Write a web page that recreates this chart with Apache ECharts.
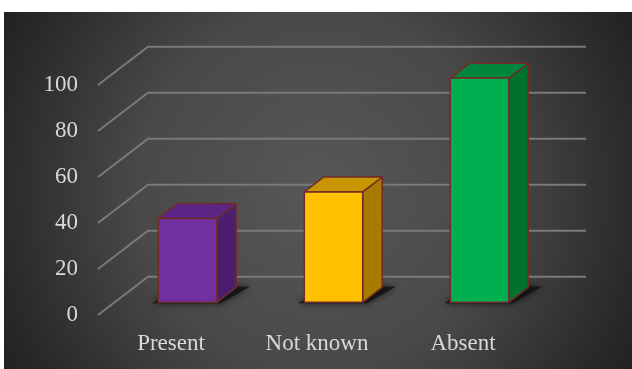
<!DOCTYPE html>
<html>
<head>
<meta charset="utf-8">
<script src="https://cdn.jsdelivr.net/npm/echarts@6/dist/echarts.min.js"></script>
<style>
  html, body { margin: 0; padding: 0; background: #ffffff; }
  #chart { width: 632px; height: 369px; }
</style>
</head>
<body>
<div id="chart"></div>
<script>
// Chart data
var categories = ['Present', 'Not known', 'Absent'];
var values = [36.5, 48, 97.5];
var yTicks = [0, 20, 40, 60, 80, 100];

// Face colours per bar: front, top, side
var frontColors = ['#7030a0', '#ffc000', '#00b050'];
var topColors = ['#5b2585', '#c89600', '#00873d'];
var sideColors = ['#4b1f6d', '#a67c00', '#00712f'];
var edgeColor = '#722a2a';

// Depth of the floor (pixels) and where the bars sit in it
var DEPTH = [50, -38.3];
var BAR_FRONT = 0.33;   // fraction of depth to the bar front face
var BAR_DEPTH = 0.39;   // fraction of depth occupied by a bar

var fontFamily = "'Liberation Serif', 'Times New Roman', serif";
var textColor = '#d9d9d9';

var chart = echarts.init(document.getElementById('chart'), null, { renderer: 'canvas' });

function renderGridLine(params, api) {
  var cs = params.coordSys;
  var y = api.coord([0, api.value(1)])[1];
  var x0 = cs.x, x1 = cs.x + cs.width;
  return {
    type: 'polyline',
    shape: { points: [[x0, y], [x0 + DEPTH[0], y + DEPTH[1]], [x1 + DEPTH[0], y + DEPTH[1]]] },
    style: { stroke: '#7a7a7a', lineWidth: 2, fill: null }
  };
}

function renderBar(params, api) {
  var idx = api.value(0);
  var base = api.coord([idx, 0]);
  var top = api.coord([idx, api.value(1)]);
  var bw = api.size([1, 0])[0] * 0.4;
  var ox = DEPTH[0] * BAR_FRONT, oy = DEPTH[1] * BAR_FRONT;
  var dx = DEPTH[0] * BAR_DEPTH, dy = DEPTH[1] * BAR_DEPTH;
  var xl = base[0] - bw / 2 + ox, xr = xl + bw;
  var yb = base[1] + oy, yt = top[1] + oy;
  var i = params.dataIndex;
  var edge = { stroke: edgeColor, lineWidth: 1.5, lineJoin: 'round' };
  return {
    type: 'group',
    children: [
      {
        type: 'polygon',
        shape: { points: [[xl - 6, yb + 1], [xr + 4, yb + 1], [xr + dx + 14, yb + dy - 1], [xl + dx, yb + dy - 1]] },
        style: { fill: 'rgba(15,15,15,0.75)', shadowBlur: 7, shadowColor: 'rgba(0,0,0,0.9)' }
      },
      {
        type: 'polygon',
        shape: { points: [[xr, yb], [xr, yt], [xr + dx, yt + dy], [xr + dx, yb + dy]] },
        style: Object.assign({ fill: sideColors[i] }, edge)
      },
      {
        type: 'polygon',
        shape: { points: [[xl, yt], [xr, yt], [xr + dx, yt + dy], [xl + dx, yt + dy]] },
        style: Object.assign({ fill: topColors[i] }, edge)
      },
      {
        type: 'rect',
        shape: { x: xl, y: yt, width: bw, height: yb - yt },
        style: Object.assign({ fill: frontColors[i] }, edge)
      }
    ]
  };
}

chart.setOption({
  animation: false,
  backgroundColor: '#ffffff',
  graphic: [{
    type: 'rect',
    z: -100,
    silent: true,
    shape: { x: 4, y: 12, width: 628, height: 357 },
    style: {
      fill: {
        type: 'radial', x: 318, y: 190, r: 360, global: true,
        colorStops: [
          { offset: 0, color: '#575757' },
          { offset: 0.5, color: '#494949' },
          { offset: 0.87, color: '#2b2b2b' },
          { offset: 1, color: '#222222' }
        ]
      }
    }
  }],
  grid: { left: 98, right: 96, top: 85, bottom: 54 },
  xAxis: {
    type: 'category',
    data: categories,
    axisLine: { show: false },
    axisTick: { show: false },
    splitLine: { show: false },
    axisLabel: {
      margin: 17,
      color: textColor,
      fontFamily: fontFamily,
      fontSize: 23
    }
  },
  yAxis: {
    type: 'value',
    min: 0,
    max: 100,
    interval: 20,
    axisLine: { show: false },
    axisTick: { show: false },
    splitLine: { show: false },
    axisLabel: {
      margin: 20,
      color: textColor,
      fontFamily: fontFamily,
      fontSize: 23
    }
  },
  series: [
    {
      type: 'custom',
      name: 'gridlines',
      silent: true,
      clip: false,
      z: 1,
      renderItem: renderGridLine,
      data: yTicks.map(function (v) { return [0, v]; })
    },
    {
      type: 'custom',
      name: 'bars',
      clip: false,
      z: 2,
      renderItem: renderBar,
      data: values.map(function (v, i) { return [i, v]; })
    }
  ]
});
</script>
</body>
</html>
